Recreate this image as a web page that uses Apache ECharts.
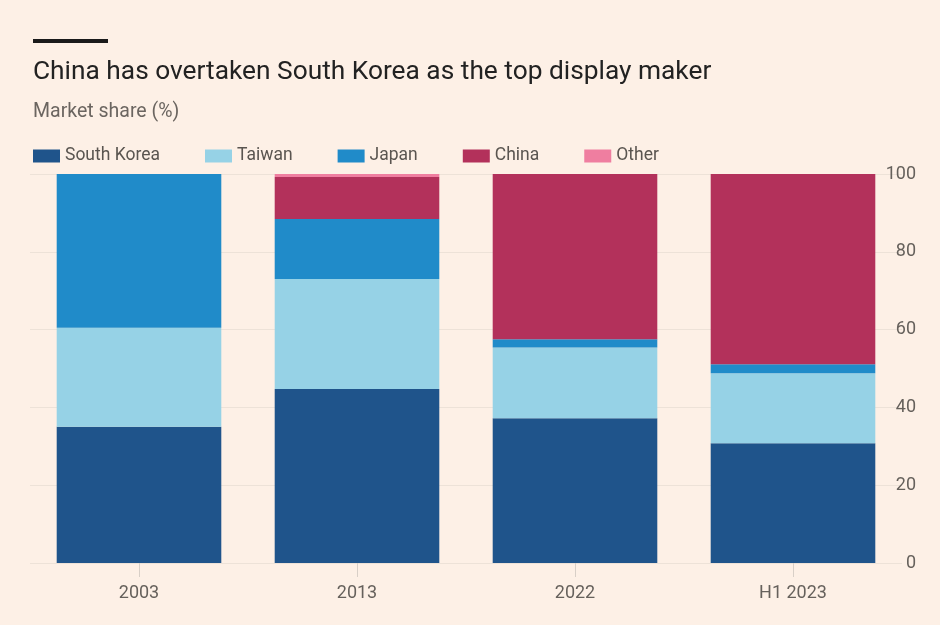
<!DOCTYPE html>
<html>
<head>
<meta charset="utf-8">
<script src="https://cdn.jsdelivr.net/npm/echarts@6/dist/echarts.min.js"></script>
<style>
html,body{margin:0;padding:0;background:#fdf0e6;}
#chart{width:940px;height:625px;}
</style>
</head>
<body>
<div id="chart"></div>
<script>
const categories = ['2003', '2013', '2022', 'H1 2023'];
const southKorea = [35.0, 44.7, 37.2, 30.8];
const taiwan = [25.5, 28.3, 18.2, 18.0];
const japan = [39.5, 15.4, 2.1, 2.3];
const china = [0, 10.8, 42.5, 48.9];
const other = [0, 0.8, 0, 0];
const yTicks = [0, 20, 40, 60, 80, 100];

const seriesDefs = [
  {name: 'South Korea', data: southKorea, color: '#1f548b'},
  {name: 'Taiwan', data: taiwan, color: '#96d2e6'},
  {name: 'Japan', data: japan, color: '#208bc9'},
  {name: 'China', data: china, color: '#b3315b'},
  {name: 'Other', data: other, color: '#ef7ea0'}
];

const chart = echarts.init(document.getElementById('chart'), null, {renderer: 'canvas'});
const font = 'Roboto, "Open Sans", sans-serif';
chart.setOption({
  backgroundColor: '#fdf0e6',
  animation: false,
  textStyle: {fontFamily: font},
  graphic: [
    {type: 'rect', left: 33, top: 39, shape: {width: 75, height: 4}, style: {fill: '#1a1a1a'}},
    {type: 'text', left: 33, top: 59, style: {text: 'China has overtaken South Korea as the top display maker', font: '26.3px ' + font, fill: '#222222'}},
    {type: 'text', left: 33, top: 102, style: {text: 'Market share (%)', font: '19.5px ' + font, fill: '#6b6560'}}
  ],
  legend: {
    left: 28, top: 142,
    itemWidth: 27, itemHeight: 13, itemGap: 45, itemTextGap: 9, itemStyle: {borderWidth: 0},
    textStyle: {fontSize: 17.5, color: '#5a5550', fontFamily: font},
    icon: 'rect',
    data: seriesDefs.map(s => s.name)
  },
  grid: {left: 30, right: 38, top: 174, bottom: 62},
  xAxis: {
    type: 'category', data: categories,
    axisLine: {show: false},
    axisTick: {show: true, alignWithLabel: true, length: 14, lineStyle: {color: '#d8cfc7'}},
    axisLabel: {color: '#66615c', fontSize: 18, margin: 21, fontFamily: font}
  },
  yAxis: {
    type: 'value', position: 'right', min: 0, max: 100, interval: 20,
    axisLabel: {color: '#66615c', fontSize: 18, align: 'right', margin: 14, fontFamily: font,
      formatter: v => yTicks.includes(v) ? String(v) : ''},
    splitLine: {lineStyle: {color: '#ede2d8', width: 1}},
    axisLine: {show: false}, axisTick: {show: false}
  },
  series: seriesDefs.map(s => ({
    name: s.name, type: 'bar', stack: 'total', data: s.data,
    barCategoryGap: '24.5%',
    itemStyle: {color: s.color},
    emphasis: {disabled: true}
  }))
});
</script>
</body>
</html>
